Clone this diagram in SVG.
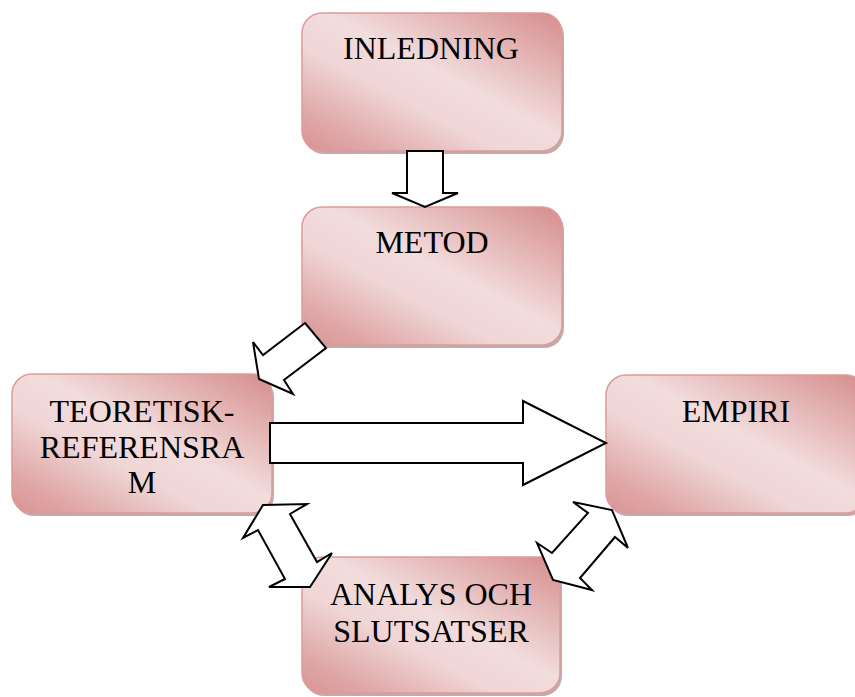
<svg xmlns="http://www.w3.org/2000/svg" width="855" height="697" viewBox="0 0 855 697">
<defs>
<linearGradient id="g" x1="1" y1="0" x2="0" y2="1">
<stop offset="0" stop-color="#d68c8c"/>
<stop offset="0.45" stop-color="#f2dcdc"/>
<stop offset="0.62" stop-color="#f0d6d6"/>
<stop offset="0.85" stop-color="#e0a9a9"/>
<stop offset="1" stop-color="#d99292"/>
</linearGradient>
<style>
.box{fill:url(#g);stroke:#dc9c9c;stroke-width:1.5}
.sh{fill:#b08f8f;opacity:0.75}
.t{font-family:"Liberation Serif","Times New Roman",serif;font-size:32px;fill:#000;text-anchor:middle}
.ar{fill:#fff;stroke:#000;stroke-width:2;stroke-linejoin:miter}
</style>
</defs>
<rect width="855" height="697" fill="#fff"/>
<g id="inledning">
<rect class="sh" x="304" y="16" width="260" height="138" rx="20"/>
<rect class="box" x="302" y="13" width="260" height="138" rx="20"/>
<text class="t" x="431" y="59">INLEDNING</text>
</g>
<g id="metod">
<rect class="sh" x="304" y="210" width="260" height="138" rx="20"/>
<rect class="box" x="302" y="207" width="260" height="138" rx="20"/>
<text class="t" x="432" y="253">METOD</text>
</g>
<g id="teoretisk">
<rect class="sh" x="14" y="377" width="260" height="139" rx="20"/>
<rect class="box" x="12" y="374" width="260" height="139" rx="20"/>
<text class="t" x="142" y="422">TEORETISK-</text>
<text class="t" x="142" y="458">REFERENSRA</text>
<text class="t" x="142" y="493">M</text>
</g>
<g id="empiri">
<rect class="sh" x="608" y="378" width="260" height="138" rx="20"/>
<rect class="box" x="606" y="375" width="260" height="138" rx="20"/>
<text class="t" x="736" y="422">EMPIRI</text>
</g>
<g id="analys">
<rect class="sh" x="304" y="560" width="258" height="136" rx="20"/>
<rect class="box" x="302" y="557" width="258" height="136" rx="20"/>
<text class="t" x="431" y="605">ANALYS OCH</text>
<text class="t" x="431" y="642">SLUTSATSER</text>
</g>
<g id="connectors">
<polygon class="ar" points="407,151 443,151 443,193 458,193 425,207 392,193 407,193"/>
<polygon class="ar" points="305,323 326,348 284,380 293,394 259,379 253,342 263,355"/>
<polygon class="ar" points="270,423 523,423 523,401 606,443 523,485 523,463 270,463"/>
<polygon class="ar" points="263,505 307,504 290,514 317,562 332,553 310,587 269,587 285,579 258,530 243,538"/>
<polygon class="ar" points="573,502 612,510 628,548 615,537 580,578 592,590 553,580 537,543 552,553 588,513"/>
</g>
</svg>
